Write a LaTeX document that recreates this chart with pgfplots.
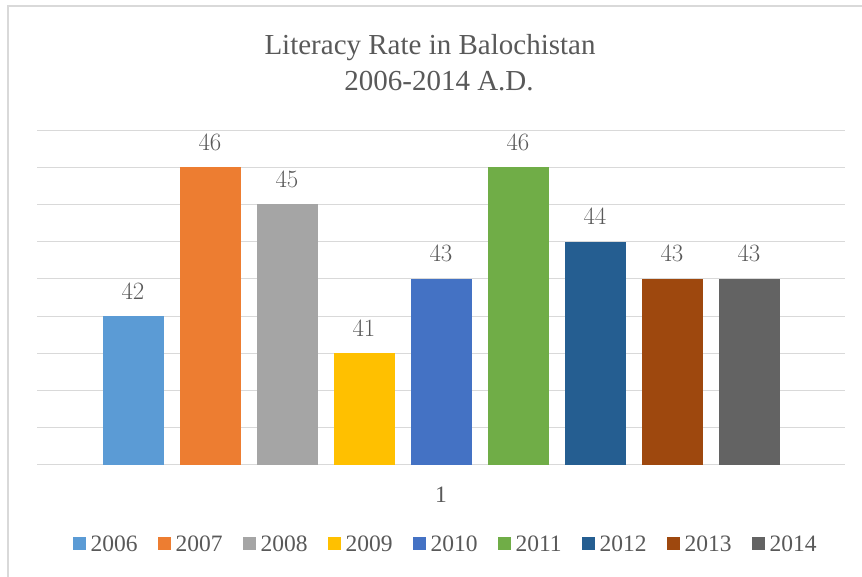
\documentclass[border=0pt]{standalone}
\usepackage{pgfplots}
\pgfplotsset{compat=1.18}
\usepackage{fontspec}
\setmainfont{Liberation Serif}
\definecolor{txt}{HTML}{595959}
\definecolor{grd}{HTML}{D9D9D9}
\definecolor{c1}{HTML}{5B9BD5}
\definecolor{c2}{HTML}{ED7D31}
\definecolor{c3}{HTML}{A5A5A5}
\definecolor{c4}{HTML}{FFC000}
\definecolor{c5}{HTML}{4472C4}
\definecolor{c6}{HTML}{70AD47}
\definecolor{c7}{HTML}{255E91}
\definecolor{c8}{HTML}{9E480E}
\definecolor{c9}{HTML}{636363}
\begin{document}
\begin{tikzpicture}[x=1pt,y=1pt]
\useasboundingbox (0,0) rectangle (862,577);
\draw[grd,line width=1.5pt] (8,0) -- (8,571) -- (862,571);
\node[txt,anchor=base,inner sep=0pt,font=\fontsize{29}{35}\selectfont] at (430,522) {Literacy Rate in Balochistan};
\node[txt,anchor=base,inner sep=0pt,font=\fontsize{29}{35}\selectfont] at (439,486) {2006-2014 A.D.};
\begin{axis}[
  at={(37pt,112pt)}, anchor=south west,
  scale only axis, width=808pt, height=335pt,
  xmin=0.5, xmax=1.5, ymin=38, ymax=47,
  ybar=16pt, bar width=61pt,
  axis x line*=bottom, axis y line*=left,
  x axis line style={grd,line width=1pt},
  y axis line style={draw=none},
  xtick={1}, xticklabels={1},
  xtick style={draw=none}, ytick style={draw=none},
  ytick={38,39,...,47}, yticklabels={},
  ymajorgrids, major grid style={grd,line width=1pt},
  tick label style={txt,font=\fontsize{23.5}{28}\selectfont},
  xticklabel style={anchor=base,inner sep=0pt,yshift=-33pt},
  nodes near coords,
  every node near coord/.append style={txt,font=\fontsize{23.5}{28}\selectfont,anchor=base,inner sep=0pt,yshift=17pt},
  legend columns=9,
  legend style={at={(0.5045,-0.2358)},anchor=center,draw=none,fill=none,
    font=\fontsize{23.5}{28}\selectfont,text=txt,
    nodes={inner sep=0pt},
    /tikz/every odd column/.append style={column sep=5pt},
    /tikz/every even column/.append style={column sep=20pt}},
  legend image code/.code={\fill[#1] (0pt,-6.5pt) rectangle (13pt,6.5pt);},
  clip=false,
]
\addplot[fill=c1,draw=none] coordinates {(1,42)};
\addplot[fill=c2,draw=none] coordinates {(1,46)};
\addplot[fill=c3,draw=none] coordinates {(1,45)};
\addplot[fill=c4,draw=none] coordinates {(1,41)};
\addplot[fill=c5,draw=none] coordinates {(1,43)};
\addplot[fill=c6,draw=none] coordinates {(1,46)};
\addplot[fill=c7,draw=none] coordinates {(1,44)};
\addplot[fill=c8,draw=none] coordinates {(1,43)};
\addplot[fill=c9,draw=none] coordinates {(1,43)};
\legend{2006,2007,2008,2009,2010,2011,2012,2013,2014}
\end{axis}
\end{tikzpicture}
\end{document}
